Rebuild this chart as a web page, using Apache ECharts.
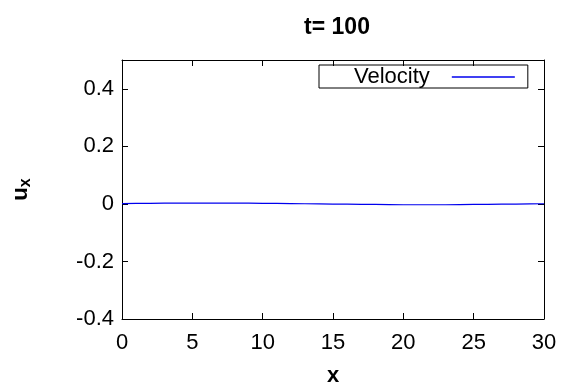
<!DOCTYPE html>
<html>
<head>
<meta charset="utf-8">
<script src="https://cdn.jsdelivr.net/npm/echarts@6/dist/echarts.min.js"></script>
<style>html,body{margin:0;padding:0;background:#fff}#c{width:563px;height:392px}</style>
</head>
<body>
<div id="c"></div>
<script>
const titleText = 't= 100';
const seriesName = 'Velocity';
const xName = 'x';
const xs = [0,1,2,3,4,5,6,7,8,9,10,11,12,13,14,15,16,17,18,19,20,21,22,23,24,25,26,27,28,29,30];
const ux = [0.001,0.0015,0.002,0.0025,0.003,0.003,0.003,0.003,0.003,0.0025,0.002,0.0015,0.001,0.0005,0,-0.0005,-0.001,-0.0015,-0.002,-0.0025,-0.003,-0.003,-0.003,-0.003,-0.0025,-0.002,-0.0015,-0.001,-0.0005,0,0.0005];
const xMin = 0, xMax = 30, xStep = 5;
const yMin = -0.4, yMax = 0.5, yStep = 0.2;

const FONT = '"Liberation Sans", Arial, sans-serif';
const chart = echarts.init(document.getElementById('c'), null, {renderer: 'canvas'});
const axisLine = {show: true, onZero: false, lineStyle: {color: '#000', width: 1}};
const tick = {show: true, inside: true, length: 6, lineStyle: {color: '#000', width: 1}};
const fmtY = v => (Math.abs(v - yMax) < 1e-9 ? '' : (Math.abs(v) < 1e-9 ? '0' : String(+v.toFixed(1))));
chart.setOption({
  animation: false,
  backgroundColor: '#fff',
  title: {
    text: titleText, left: 332, top: 11, textAlign: 'center',
    textStyle: {fontFamily: FONT, fontWeight: 'bold', fontSize: 23, color: '#000'}
  },
  legend: {
    data: [{name: seriesName, icon: 'path://M0,0H100V2H0Z'}], left: 319, top: 65, align: 'right',
    itemWidth: 63, itemHeight: 14,
    padding: [1, 13, 0, 35],
    borderColor: '#000', borderWidth: 1, borderRadius: 0,
    textStyle: {fontFamily: FONT, fontSize: 22, color: '#000', lineHeight: 20, padding: [0, 17, 0, 0]}
  },
  grid: {left: 121, right: 19, top: 60, bottom: 73, containLabel: false},
  xAxis: [{
    type: 'value', min: xMin, max: xMax, interval: xStep, position: 'bottom',
    name: xName, nameLocation: 'middle', nameGap: 46,
    nameTextStyle: {fontFamily: FONT, fontWeight: 'bold', fontSize: 22, color: '#000'},
    axisLine, axisTick: tick, splitLine: {show: false},
    axisLabel: {fontFamily: FONT, fontSize: 22, color: '#000', margin: 13}
  }, {
    type: 'value', min: xMin, max: xMax, interval: xStep, position: 'top',
    axisLine, axisTick: tick, splitLine: {show: false}, axisLabel: {show: false}
  }],
  yAxis: [{
    type: 'value', min: yMin, max: yMax, interval: yStep, position: 'left',
    name: '{u|u}{s|x}', nameLocation: 'middle', nameGap: 90, nameRotate: 90,
    nameTextStyle: {
      fontFamily: FONT, fontWeight: 'bold', color: '#000',
      rich: {
        u: {fontFamily: FONT, fontWeight: 'bold', fontSize: 22, color: '#000', verticalAlign: 'top', lineHeight: 22},
        s: {fontFamily: FONT, fontWeight: 'bold', fontSize: 16, color: '#000', padding: [10, 0, 0, 0], lineHeight: 16}
      }
    },
    axisLine, axisTick: tick, splitLine: {show: false},
    axisLabel: {fontFamily: FONT, fontSize: 22, color: '#000', margin: 8, formatter: fmtY}
  }, {
    type: 'value', min: yMin, max: yMax, interval: yStep, position: 'right',
    axisLine, axisTick: tick, splitLine: {show: false}, axisLabel: {show: false}
  }],
  series: [{
    name: seriesName, type: 'line', xAxisIndex: 0, yAxisIndex: 0,
    data: xs.map((x, i) => [x, ux[i]]),
    symbol: 'none', showSymbol: false,
    lineStyle: {color: '#0000ee', width: 1.2}, itemStyle: {color: '#0000ee'}
  }]
});
</script>
</body>
</html>
